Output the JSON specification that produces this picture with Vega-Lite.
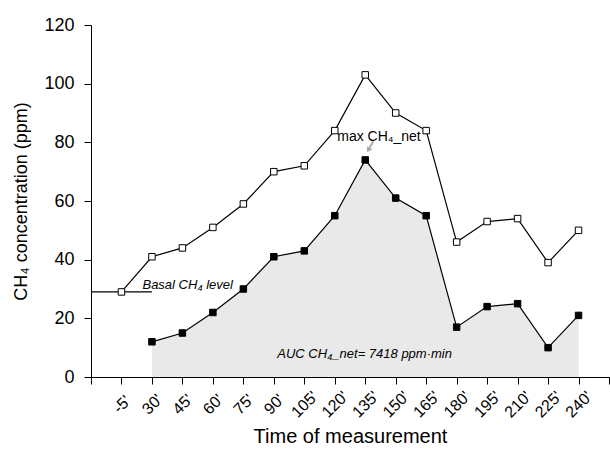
{
  "$schema": "https://vega.github.io/schema/vega-lite/v6.json",
  "width": 518,
  "height": 352,
  "autosize": "none",
  "padding": {"left": 91, "top": 25, "right": 1, "bottom": 79},
  "config": {
    "view": {"stroke": null},
    "font": "Liberation Sans",
    "axis": {
      "grid": false,
      "domainColor": "#000000",
      "tickColor": "#000000",
      "labelColor": "#000000",
      "titleColor": "#000000",
      "labelFont": "Liberation Sans",
      "titleFont": "Liberation Sans",
      "titleFontWeight": "normal",
      "tickSize": 7,
      "domainWidth": 1,
      "tickWidth": 1
    }
  },
  "datasets": {
    "series": [
      {"time": "-5'", "series": "measured", "value": 29},
      {"time": "30'", "series": "measured", "value": 41},
      {"time": "45'", "series": "measured", "value": 44},
      {"time": "60'", "series": "measured", "value": 51},
      {"time": "75'", "series": "measured", "value": 59},
      {"time": "90'", "series": "measured", "value": 70},
      {"time": "105'", "series": "measured", "value": 72},
      {"time": "120'", "series": "measured", "value": 84},
      {"time": "135'", "series": "measured", "value": 103},
      {"time": "150'", "series": "measured", "value": 90},
      {"time": "165'", "series": "measured", "value": 84},
      {"time": "180'", "series": "measured", "value": 46},
      {"time": "195'", "series": "measured", "value": 53},
      {"time": "210'", "series": "measured", "value": 54},
      {"time": "225'", "series": "measured", "value": 39},
      {"time": "240'", "series": "measured", "value": 50},
      {"time": "30'", "series": "net", "value": 12},
      {"time": "45'", "series": "net", "value": 15},
      {"time": "60'", "series": "net", "value": 22},
      {"time": "75'", "series": "net", "value": 30},
      {"time": "90'", "series": "net", "value": 41},
      {"time": "105'", "series": "net", "value": 43},
      {"time": "120'", "series": "net", "value": 55},
      {"time": "135'", "series": "net", "value": 74},
      {"time": "150'", "series": "net", "value": 61},
      {"time": "165'", "series": "net", "value": 55},
      {"time": "180'", "series": "net", "value": 17},
      {"time": "195'", "series": "net", "value": 24},
      {"time": "210'", "series": "net", "value": 25},
      {"time": "225'", "series": "net", "value": 10},
      {"time": "240'", "series": "net", "value": 21}
    ],
    "basal": [{"start": "pre", "end": "30'", "value": 29}],
    "labels": [
      {"time": "-5'", "value": 30, "text": "Basal CH₄ level", "kind": "basal"},
      {"time": "135'", "value": 80.5, "text": "max CH₄_net", "kind": "max"},
      {"time": "105'", "value": 6.5, "text": "AUC CH₄_net= 7418 ppm·min", "kind": "auc"}
    ],
    "arrow": [{"time": "135'", "value": 78.5}]
  },
  "encoding": {
    "x": {
      "field": "time",
      "type": "ordinal",
      "sort": null,
      "scale": {
        "type": "point",
        "padding": 0,
        "domain": ["pre", "-5'", "30'", "45'", "60'", "75'", "90'", "105'", "120'", "135'", "150'", "165'", "180'", "195'", "210'", "225'", "240'", "post"]
      },
      "axis": {
        "title": "Time of measurement",
        "titleFontSize": 20,
        "titlePadding": 6,
        "labelFontSize": 16,
        "labelAngle": -45,
        "labelAlign": "center",
        "labelBaseline": "middle",
        "labelPadding": 20,
        "labelExpr": "datum.value == 'pre' || datum.value == 'post' ? '' : datum.value"
      }
    },
    "y": {
      "field": "value",
      "type": "quantitative",
      "scale": {"domain": [0, 120], "nice": false},
      "axis": {
        "title": "CH₄ concentration (ppm)",
        "titleFontSize": 18,
        "titlePadding": 13,
        "labelFontSize": 18,
        "labelPadding": 10,
        "values": [0, 20, 40, 60, 80, 100, 120]
      }
    }
  },
  "layer": [
    {
      "data": {"name": "series"},
      "transform": [{"filter": "datum.series == 'net'"}],
      "mark": {"type": "area", "color": "#e9e9e9", "opacity": 1}
    },
    {
      "data": {"name": "series"},
      "transform": [{"filter": "datum.series == 'measured'"}],
      "mark": {"type": "line", "color": "#000000", "strokeWidth": 1.2}
    },
    {
      "data": {"name": "series"},
      "transform": [{"filter": "datum.series == 'net'"}],
      "mark": {"type": "line", "color": "#000000", "strokeWidth": 1.2}
    },
    {
      "data": {"name": "basal"},
      "mark": {"type": "rule", "color": "#000000", "strokeWidth": 1.2},
      "encoding": {
        "x": {"field": "start", "type": "ordinal"},
        "x2": {"field": "end"},
        "y": {"field": "value", "type": "quantitative"}
      }
    },
    {
      "data": {"name": "series"},
      "transform": [{"filter": "datum.series == 'measured'"}],
      "mark": {"type": "point", "shape": "square", "filled": true, "fill": "#ffffff", "stroke": "#000000", "strokeWidth": 1, "size": 42, "opacity": 1}
    },
    {
      "data": {"name": "series"},
      "transform": [{"filter": "datum.series == 'net'"}],
      "mark": {"type": "point", "shape": "square", "filled": true, "fill": "#000000", "stroke": "#000000", "strokeWidth": 1, "size": 42, "opacity": 1}
    },
    {
      "data": {"name": "labels"},
      "transform": [{"filter": "datum.kind == 'basal'"}],
      "mark": {"type": "text", "align": "left", "baseline": "alphabetic", "fontStyle": "italic", "fontSize": 13, "dx": 21, "color": "#000000"},
      "encoding": {"text": {"field": "text"}}
    },
    {
      "data": {"name": "labels"},
      "transform": [{"filter": "datum.kind == 'max'"}],
      "mark": {"type": "text", "align": "left", "baseline": "alphabetic", "fontSize": 14, "dx": -28, "color": "#000000"},
      "encoding": {"text": {"field": "text"}}
    },
    {
      "data": {"name": "labels"},
      "transform": [{"filter": "datum.kind == 'auc'"}],
      "mark": {"type": "text", "align": "left", "baseline": "alphabetic", "fontStyle": "italic", "fontSize": 13, "dx": -27, "color": "#000000"},
      "encoding": {"text": {"field": "text"}}
    },
    {
      "data": {"name": "arrow"},
      "mark": {
        "type": "point",
        "shape": "M-0.15,-1L0.15,-1L0.15,0.2L0.5,0.2L0,1L-0.5,0.2L-0.15,0.2Z",
        "filled": true,
        "fill": "#aaaaaa",
        "stroke": null,
        "size": 160,
        "angle": 30,
        "xOffset": 5,
        "opacity": 1
      }
    }
  ]
}
